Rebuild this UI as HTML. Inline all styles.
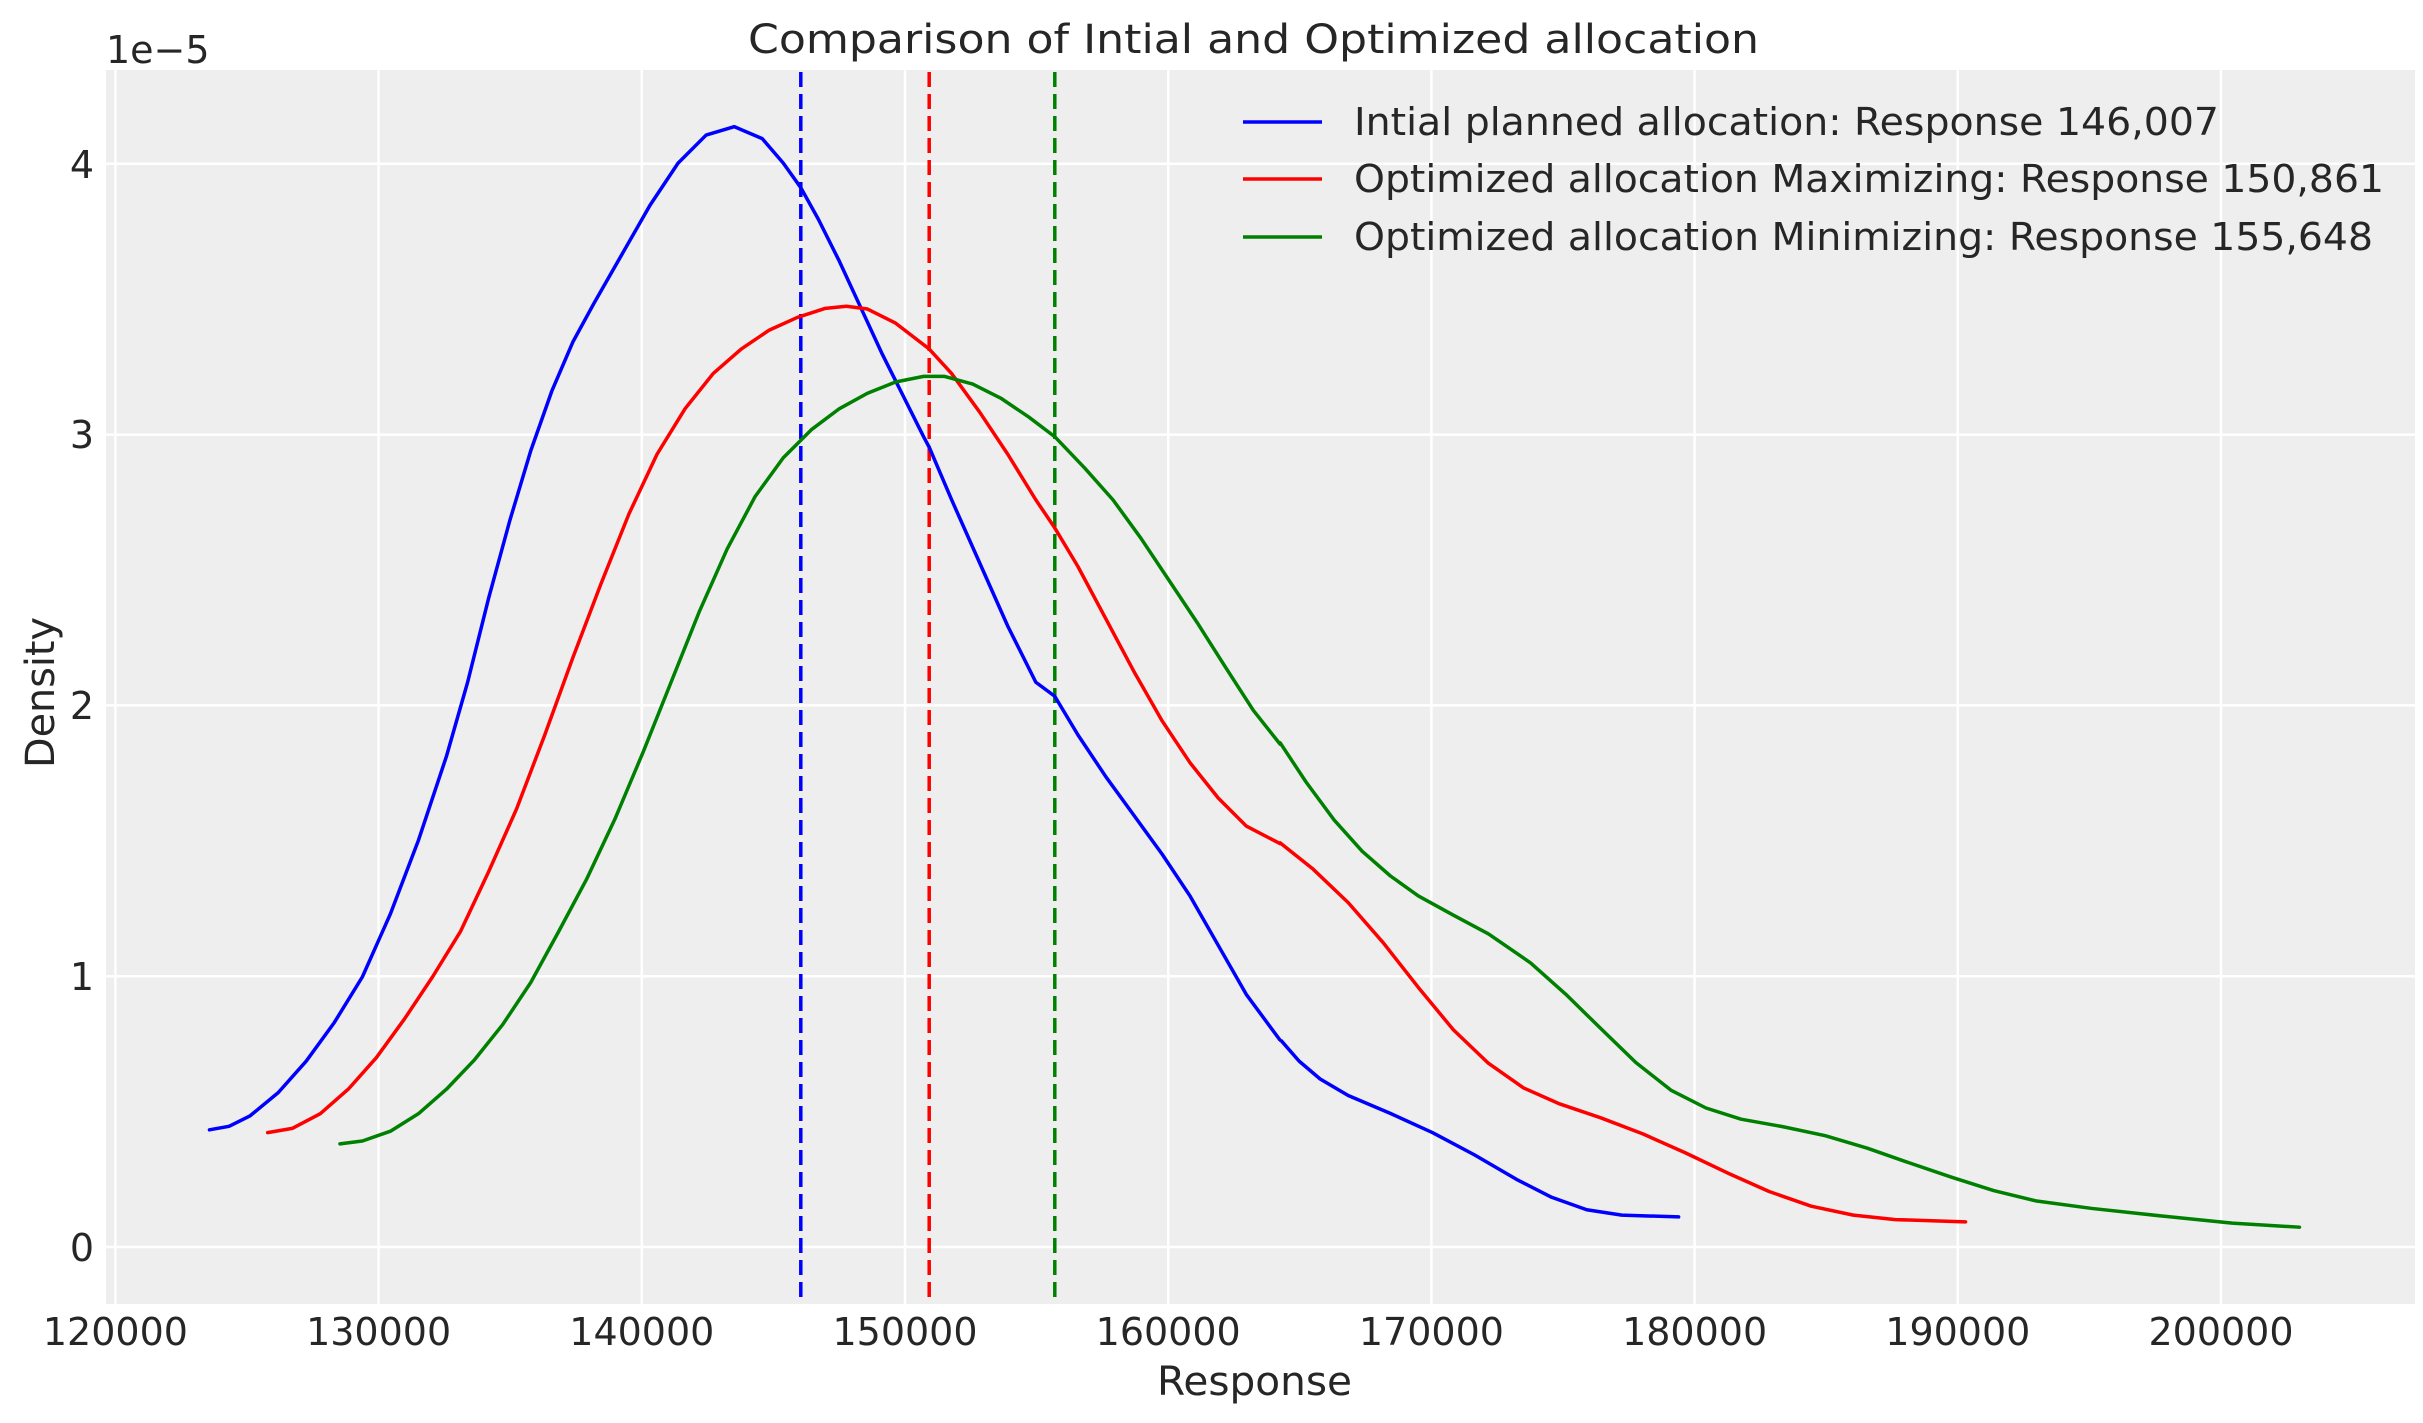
<!DOCTYPE html>
<html><head><meta charset="utf-8"><style>
html,body{margin:0;padding:0;background:#fff;}
svg{display:block;}
text{font-family:"DejaVu Sans","Liberation Sans",sans-serif;fill:#262626;}
</style></head><body>
<svg width="2423" height="1423" viewBox="0 0 2423 1423" xmlns="http://www.w3.org/2000/svg">
<rect x="106" y="70" width="2309" height="1234" fill="#eeeeee"/>
<g stroke="#ffffff" stroke-width="2.5">
<line x1="115.4" y1="70" x2="115.4" y2="1304"/>
<line x1="378.6" y1="70" x2="378.6" y2="1304"/>
<line x1="641.8" y1="70" x2="641.8" y2="1304"/>
<line x1="905" y1="70" x2="905" y2="1304"/>
<line x1="1168.2" y1="70" x2="1168.2" y2="1304"/>
<line x1="1431.4" y1="70" x2="1431.4" y2="1304"/>
<line x1="1694.6" y1="70" x2="1694.6" y2="1304"/>
<line x1="1957.8" y1="70" x2="1957.8" y2="1304"/>
<line x1="2221" y1="70" x2="2221" y2="1304"/>
<line x1="106" y1="1247" x2="2415" y2="1247"/>
<line x1="106" y1="976.2" x2="2415" y2="976.2"/>
<line x1="106" y1="705.4" x2="2415" y2="705.4"/>
<line x1="106" y1="434.6" x2="2415" y2="434.6"/>
<line x1="106" y1="163.8" x2="2415" y2="163.8"/>
</g>
<g stroke-width="3.5" stroke-dasharray="15,7">
<line x1="800.8" y1="72" x2="800.8" y2="1304" stroke="#0000ff"/>
<line x1="929.2" y1="72" x2="929.2" y2="1304" stroke="#ff0000"/>
<line x1="1054.8" y1="72" x2="1054.8" y2="1304" stroke="#008000"/>
</g>
<g fill="none" stroke-width="3.5" stroke-linejoin="round" stroke-linecap="round">
<g transform="translate(180,100) scale(0.7015)">
<polyline vector-effect="non-scaling-stroke" stroke="#0000ff" points="42,1468 70,1463 100,1448 140,1415 180,1370 220,1315 260,1250 300,1160 340,1055 380,935 410,830 440,710 470,600 500,500 530,415 560,345 590,290 630,220 670,150 710,90 750,50 790,38 830,55 860,90 885,125 910,170 940,230 970,295 1000,360 1030,420 1060,480 1068,495 1100,570 1140,660 1180,750 1220,830 1247,850 1280,905 1320,965 1360,1020 1400,1075 1440,1135 1480,1205 1520,1275 1568,1340"/>
<polyline vector-effect="non-scaling-stroke" stroke="#ff0000" points="125,1472 160,1466 200,1445 240,1410 280,1365 320,1310 360,1250 400,1185 440,1100 480,1010 520,905 560,795 600,690 640,590 680,505 720,440 760,390 800,355 840,328 880,310 920,297 950,294 980,298 1020,318 1068,355 1100,390 1140,445 1180,505 1220,570 1247,610 1280,665 1320,740 1360,815 1400,885 1440,945 1480,995 1520,1035 1568,1060"/>
<polyline vector-effect="non-scaling-stroke" stroke="#008000" points="228,1488 260,1484 300,1470 340,1445 380,1410 420,1368 460,1318 500,1258 540,1185 580,1110 620,1025 660,930 700,830 740,730 780,640 820,565 860,510 900,470 940,440 980,418 1020,402 1060,394 1090,394 1130,405 1170,425 1210,452 1247,480 1290,525 1330,570 1370,625 1410,685 1450,745 1490,808 1530,870 1568,918"/>
</g>
<g transform="translate(1250,550) scale(0.7015,0.4464)">
<polyline vector-effect="non-scaling-stroke" stroke="#0000ff" points="45,1100 70,1145 100,1185 140,1222 200,1262 260,1305 320,1355 380,1410 430,1450 480,1478 530,1490 611,1494"/>
<polyline vector-effect="non-scaling-stroke" stroke="#ff0000" points="43,656 90,715 140,790 190,880 240,980 290,1075 340,1150 390,1205 440,1240 500,1272 560,1308 620,1350 680,1395 740,1437 800,1470 860,1490 920,1500 1020,1505"/>
<polyline vector-effect="non-scaling-stroke" stroke="#008000" points="43,432 80,520 120,605 160,675 200,730 240,775 290,818 340,860 400,925 450,995 500,1072 550,1148 600,1210 650,1250 700,1275 760,1292 820,1312 880,1340 940,1373 1000,1405 1060,1435 1120,1458 1200,1475 1300,1492 1400,1508 1496,1517"/>
</g>
</g>
<g font-size="38" text-anchor="middle">
<text x="115.4" y="1345">120000</text>
<text x="378.6" y="1345">130000</text>
<text x="641.8" y="1345">140000</text>
<text x="905" y="1345">150000</text>
<text x="1168.2" y="1345">160000</text>
<text x="1431.4" y="1345">170000</text>
<text x="1694.6" y="1345">180000</text>
<text x="1957.8" y="1345">190000</text>
<text x="2221" y="1345">200000</text>
</g>
<g font-size="38" text-anchor="end">
<text x="94" y="1261">0</text>
<text x="94" y="990">1</text>
<text x="94" y="719">2</text>
<text x="94" y="448">3</text>
<text x="94" y="178">4</text>
</g>
<text x="106" y="63" font-size="38">1e−5</text>
<text x="748" y="53" font-size="40" textLength="1011" lengthAdjust="spacingAndGlyphs">Comparison of Intial and Optimized allocation</text>
<text x="1157" y="1395" font-size="40" textLength="195" lengthAdjust="spacingAndGlyphs">Response</text>
<text transform="translate(54,768) rotate(-90)" font-size="40" textLength="151" lengthAdjust="spacingAndGlyphs">Density</text>
<g stroke-width="3.5">
<line x1="1243" y1="122" x2="1322" y2="122" stroke="#0000ff"/>
<line x1="1243" y1="179" x2="1322" y2="179" stroke="#ff0000"/>
<line x1="1243" y1="237" x2="1322" y2="237" stroke="#008000"/>
</g>
<g font-size="38">
<text x="1354" y="135" textLength="865" lengthAdjust="spacingAndGlyphs">Intial planned allocation: Response 146,007</text>
<text x="1354" y="192" textLength="1030" lengthAdjust="spacingAndGlyphs">Optimized allocation Maximizing: Response 150,861</text>
<text x="1354" y="250" textLength="1019" lengthAdjust="spacingAndGlyphs">Optimized allocation Minimizing: Response 155,648</text>
</g>
</svg>
</body></html>
